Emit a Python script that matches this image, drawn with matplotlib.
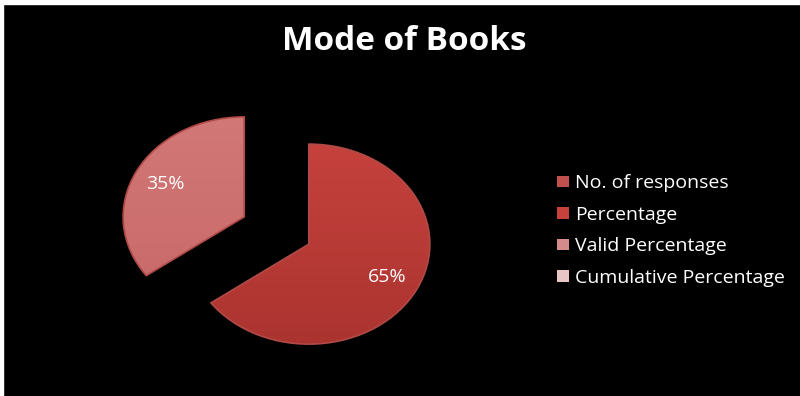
import numpy as np
import matplotlib
matplotlib.use("Agg")
import matplotlib.pyplot as plt
from matplotlib.patches import Patch, Rectangle
from matplotlib.colors import to_rgb

categories = ["No. of responses", "Percentage", "Valid Percentage", "Cumulative Percentage"]
shares = [65, 35, 0, 0]
colors = ["#C0504D", "#C8413C", "#D48C8A", "#E9C6C6"]
wedge_top = ["#CC4540", "#D37A78"]
wedge_bottom = ["#A8322E", "#C56464"]

W, H = 800, 396
fig = plt.figure(figsize=(W / 100, H / 100), dpi=100, facecolor="black")
# thin white strip on the top and left edges
fig.patches.append(Rectangle((0, 1 - 4 / H), 1, 4 / H, transform=fig.transFigure,
                             color="white", zorder=-1))
fig.patches.append(Rectangle((0, 0), 3 / W, 1, transform=fig.transFigure,
                             color="white", zorder=-1))

fig.text(404 / W, 1 - 42 / H, "Mode of Books", color="white", fontsize=24,
         fontweight="bold", family="Open Sans", ha="center", va="center")

# pie axes: wider than tall for the tilted look
rx, ry = 121, 100
cx, cy = 276.5, H - 230.5
span = 1.6
ax = fig.add_axes([(cx - span * rx) / W, (cy - span * ry) / H,
                   2 * span * rx / W, 2 * span * ry / H])
ax.set_facecolor("black")

vals = [v for v in shares if v > 0]
wedges, texts, autotexts = ax.pie(
    vals, startangle=90, counterclock=False, explode=[0.3] * len(vals),
    colors=colors[:len(vals)], autopct="%d%%", pctdistance=0.73,
    wedgeprops=dict(linewidth=1.2, edgecolor="#B04A46"),
    textprops=dict(color="white", fontsize=14, family="Open Sans"))
ax.set_aspect("auto")
ax.axis("off")

# vertical shading inside each wedge
grad = np.linspace(0, 1, 256)[:, None]
for w, top, bot in zip(wedges, wedge_top, wedge_bottom):
    t, b = np.array(to_rgb(top)), np.array(to_rgb(bot))
    img = (t[None, None, :] * (1 - grad[..., None]) + b[None, None, :] * grad[..., None])
    img = np.repeat(img, 2, axis=1)
    im = ax.imshow(img, extent=[-span, span, -1.4, 1.4], aspect="auto", zorder=1.5)
    im.set_clip_path(w)
    w.set_facecolor("none")
    w.set_zorder(2)
for t in autotexts:
    t.set_zorder(3)
ax.set_xlim(-span, span)
ax.set_ylim(-span, span)

handles = [Patch(facecolor=c, edgecolor="none") for c in colors]
leg = fig.legend(handles, categories, loc="upper left",
                 bbox_to_anchor=(539 / W, 1 - 157 / H), frameon=False,
                 labelcolor="white", handlelength=0.65,
                 handleheight=0.55, handletextpad=0.3, labelspacing=0.69,
                 prop=dict(family="Open Sans", size=14))

fig.savefig("out.png", dpi=100, facecolor=fig.get_facecolor())
